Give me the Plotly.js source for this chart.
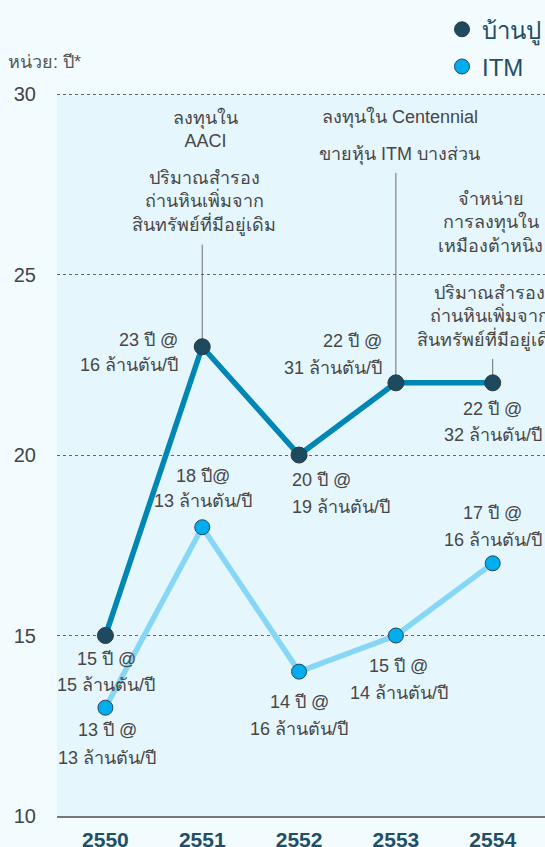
<!DOCTYPE html>
<html>
<head>
<meta charset="utf-8">
<script src="https://cdn.plot.ly/plotly-3.0.1.min.js"></script>
<style>
html,body{margin:0;padding:0;background:#f2fbfe;}
#chart{width:545px;height:847px;}
</style>
</head>
<body>
<div id="chart"></div>
<script>
// ---- data ----
const years = ['2550', '2551', '2552', '2553', '2554'];
const banpu = [15, 23, 20, 22, 22];
const itm = [13, 18, 14, 15, 17];
const banpuLine1 = ['15 ปี @', '23 ปี @', '20 ปี @', '22 ปี @', '22 ปี @'];
const banpuLine2 = ['15 ล้านตัน/ปี', '16 ล้านตัน/ปี', '19 ล้านตัน/ปี', '31 ล้านตัน/ปี', '32 ล้านตัน/ปี'];
const itmLine1 = ['13 ปี @', '18 ปี@', '14 ปี @', '15 ปี @', '17 ปี @'];
const itmLine2 = ['13 ล้านตัน/ปี', '13 ล้านตัน/ปี', '16 ล้านตัน/ปี', '14 ล้านตัน/ปี', '16 ล้านตัน/ปี'];
const seriesNames = ['บ้านปู', 'ITM'];
const unitLabel = 'หน่วย: ปี*';
const yTicks = [10, 15, 20, 25, 30];
const noteAACI = 'ลงทุนใน<br>AACI';
const noteReserve = 'ปริมาณสำรอง<br>ถ่านหินเพิ่มจาก<br>สินทรัพย์ที่มีอยู่เดิม';
const noteCentennial = 'ลงทุนใน Centennial';
const noteSellITM = 'ขายหุ้น ITM บางส่วน';
const noteDivest = 'จำหน่าย<br>การลงทุนใน<br>เหมืองต้าหนิง';

// ---- styles / placement ----
const FONT = 'Liberation Sans, Arial, Noto Sans, sans-serif';
const TXT = '#474747';
const cBanpuLine = '#0086b4', cBanpuMk = '#1e4a5f';
const cItmLine = '#86d6f5', cItmMk = '#00adee';

const banpuPlace = [
  {xa: 'center', dx: 1, dy1: 23, dy2: 49},
  {xa: 'right', dx: -22, dy1: -7, dy2: 18},
  {xa: 'left', dx: -9, dy1: 25, dy2: 52},
  {xa: 'right', dx: -12, dy1: -42, dy2: -15},
  {xa: 'center', dx: 0, dy1: 26, dy2: 52}
];
const itmPlace = [
  {xa: 'center', dx: 2, dy1: 22, dy2: 50},
  {xa: 'center', dx: 1, dy1: -51, dy2: -26},
  {xa: 'center', dx: 0, dy1: 30, dy2: 57},
  {xa: 'center', dx: 3, dy1: 30, dy2: 57},
  {xa: 'center', dx: 0, dy1: -50, dy2: -23}
];

const traces = [
  {x: years, y: banpu, type: 'scatter', mode: 'lines+markers', showlegend: false,
   line: {color: cBanpuLine, width: 5.5},
   marker: {color: cBanpuMk, size: 16, line: {color: '#2b3a44', width: 1}}},
  {x: years, y: itm, type: 'scatter', mode: 'lines+markers', showlegend: false,
   line: {color: cItmLine, width: 5.5},
   marker: {color: cItmMk, size: 15, line: {color: '#2b4656', width: 1}}},
  {x: [null], y: [null], type: 'scatter', mode: 'markers', name: seriesNames[0], legendgroup: 'a',
   marker: {color: cBanpuMk, size: 15, line: {color: '#2b3a44', width: 1}}},
  {x: [null], y: [null], type: 'scatter', mode: 'markers', name: seriesNames[1], legendgroup: 'b',
   marker: {color: cItmMk, size: 15, line: {color: '#2b4656', width: 1}}}
];

const annotations = [];
function addLabels(vals, l1, l2, place) {
  vals.forEach((v, i) => {
    const p = place[i];
    annotations.push({x: i, y: v, xref: 'x', yref: 'y', text: l1[i], showarrow: false,
      xanchor: p.xa, yanchor: 'middle', xshift: p.dx, yshift: -p.dy1, font: {family: FONT, size: 18, color: TXT}});
    annotations.push({x: i, y: v, xref: 'x', yref: 'y', text: l2[i], showarrow: false,
      xanchor: p.xa, yanchor: 'middle', xshift: p.dx, yshift: -p.dy2, font: {family: FONT, size: 18, color: TXT}});
  });
}
addLabels(banpu, banpuLine1, banpuLine2, banpuPlace);
addLabels(itm, itmLine1, itmLine2, itmPlace);

function note(xi, ypaper, text, xs) {
  annotations.push({x: xi, y: ypaper, xref: 'x', yref: 'paper', text: text, showarrow: false,
    xanchor: 'center', yanchor: 'middle', xshift: xs, align: 'center', font: {family: FONT, size: 18, color: TXT}});
}
note(1, 0.950, noteAACI, 3);
note(1, 0.8486, noteReserve, 2);
note(3, 0.9663, noteCentennial, 4);
note(3, 0.9155, noteSellITM, 4);
note(4, 0.8209, noteDivest, -2);
note(4, 0.6898, noteReserve, -4);

annotations.push({x: -0.105, y: 1.043, xref: 'paper', yref: 'paper', text: unitLabel, showarrow: false,
  xanchor: 'left', yanchor: 'middle', font: {family: FONT, size: 18, color: '#555'}});

function connector(i, v, len) {
  return {type: 'line', xref: 'x', yref: 'y', x0: i, x1: i, ysizemode: 'pixel', yanchor: v,
    y0: 0, y1: len, layer: 'below', line: {color: '#6d6d6d', width: 1}};
}
const shapes = [
  connector(1, banpu[1], 102),
  connector(3, banpu[3], 210),
  connector(4, banpu[4], 24)
];

const layout = {
  width: 545, height: 847,
  margin: {l: 57, r: 0, t: 93, b: 31, pad: 0, autoexpand: false},
  paper_bgcolor: '#f2fbfe', plot_bgcolor: '#e6f6fd',
  font: {family: FONT, color: TXT},
  showlegend: true,
  legend: {xref: 'container', yref: 'container', x: 0.811, y: 0.9915, xanchor: 'left', yanchor: 'top',
    bgcolor: 'rgba(0,0,0,0)', traceorder: 'grouped', tracegroupgap: 3,
    font: {family: FONT, size: 24, color: '#1f4e64'}},
  xaxis: {type: 'category', range: [-0.5, 4.54], showgrid: false, zeroline: false,
    showline: true, linecolor: '#777', linewidth: 2, ticks: '', ticklabelstandoff: 4,
    tickfont: {family: FONT, size: 21, color: '#1f4f66', weight: 'bold'}, fixedrange: true},
  yaxis: {range: [10, 30.03], tickvals: yTicks, showgrid: true, gridcolor: '#666', gridwidth: 1, griddash: 'dot',
    zeroline: false, showline: false, ticks: '', ticklabelstandoff: 20,
    tickfont: {family: FONT, size: 20, color: '#444'}, fixedrange: true},
  annotations: annotations,
  shapes: shapes
};

Plotly.newPlot('chart', traces, layout, {displayModeBar: false, staticPlot: true});
</script>
</body>
</html>
